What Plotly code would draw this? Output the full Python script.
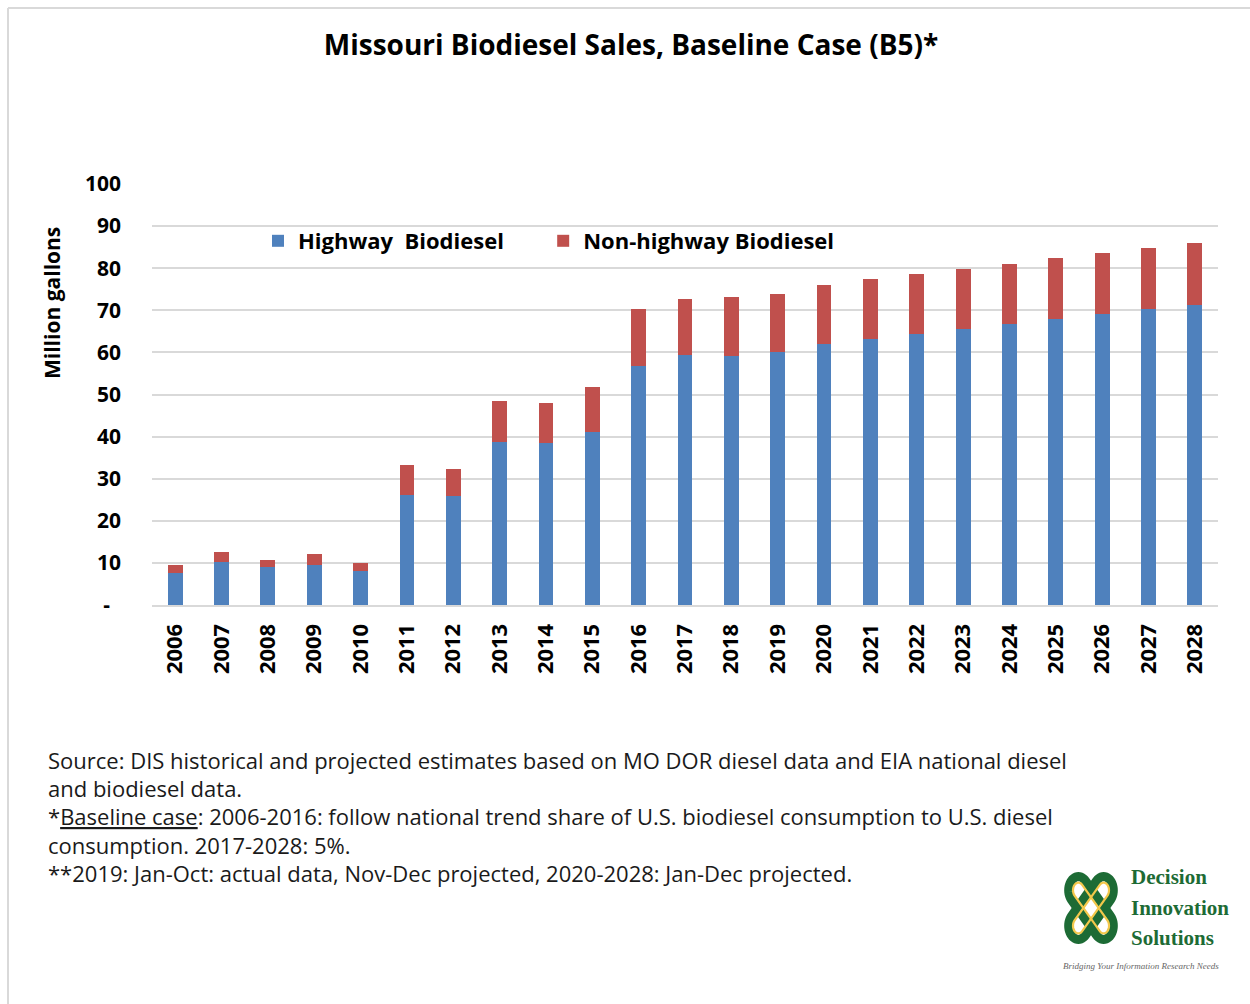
import math
import plotly.graph_objects as go

# ---- data (million gallons) ----
years = [str(y) for y in range(2006, 2029)]
highway = [7.7, 10.3, 9.0, 9.6, 8.0, 26.1, 25.9, 38.8, 38.4, 41.1, 56.7, 59.4,
           59.1, 60.2, 62.0, 63.1, 64.4, 65.5, 66.8, 67.9, 69.1, 70.3, 71.3]
non_highway = [1.9, 2.4, 1.8, 2.4, 1.9, 7.1, 6.4, 9.6, 9.7, 10.8, 13.6, 13.3,
               14.1, 13.7, 14.1, 14.4, 14.3, 14.4, 14.3, 14.6, 14.6, 14.6, 14.8]
y_ticks = [0, 10, 20, 30, 40, 50, 60, 70, 80, 90, 100]
y_tick_text = ["-\u00a0\u00a0"] + [str(v) for v in y_ticks[1:]]

title = "Missouri Biodiesel Sales, Baseline Case (B5)*"
notes = [
    "Source: DIS historical and projected estimates based on MO DOR diesel data and EIA national diesel",
    "and biodiesel data.",
    "*<span style='text-decoration:underline'>Baseline case</span>: 2006-2016: follow national trend share of U.S. biodiesel consumption to U.S. diesel",
    "consumption. 2017-2028: 5%.",
    "**2019: Jan-Oct: actual data, Nov-Dec projected, 2020-2028: Jan-Dec projected.",
]

# ---- page geometry ----
W, H = 1250, 1004
L, R, T, B = 152, 32, 184, 399
PW, PH = W - L - R, H - T - B
FONT = "Open Sans"


def px(x):
    return (x - L) / PW


def py(y):
    return (H - B - y) / PH


fig = go.Figure()
# trailing no-break spaces widen the first legend entry
fig.add_trace(go.Bar(x=years, y=highway, name="Highway  Biodiesel" + "\u00a0" * 6,
                     marker=dict(color="#4f81bd", line=dict(width=0))))
fig.add_trace(go.Bar(x=years, y=non_highway, name="Non-highway Biodiesel",
                     marker=dict(color="#c0504d", line=dict(width=0))))

annotations = [
    dict(text="<b>Million gallons</b>", x=px(52), y=py(303), xref="paper", yref="paper",
         textangle=-90, showarrow=False, xanchor="center", yanchor="middle",
         font=dict(family=FONT, size=21, color="black")),
]
note_y = [760, 788, 816, 845, 873]
for txt, yy in zip(notes, note_y):
    annotations.append(dict(text=txt, x=px(46), y=py(yy), xref="paper", yref="paper",
                            showarrow=False, xanchor="left", yanchor="middle",
                            font=dict(family=FONT, size=22, color="#1a1a1a")))

# logo wordmark
for word, yy in zip(["Decision", "Innovation", "Solutions"], [877, 908, 938]):
    annotations.append(dict(text="<b>" + word + "</b>", x=px(1129), y=py(yy),
                            xref="paper", yref="paper", showarrow=False,
                            xanchor="left", yanchor="middle",
                            font=dict(family="Liberation Serif", size=21, color="#1d6b35")))
annotations.append(dict(text="<i>Bridging Your Information Research Needs</i>",
                        x=px(1141), y=py(966), xref="paper", yref="paper",
                        showarrow=False, xanchor="center", yanchor="middle",
                        font=dict(family="Liberation Serif", size=9, color="#666666")))


def stadium(cx, cy, sx, sy, angle, half_len, rad, n=24):
    """Closed rounded-band outline, returned as an SVG path in paper units."""
    ux, uy = math.cos(angle), math.sin(angle)
    nx, ny = -uy, ux
    pts = []
    for end, start in ((1, -math.pi / 2), (-1, math.pi / 2)):
        for i in range(n + 1):
            t = start + math.pi * i / n
            x = end * half_len * ux + rad * (math.cos(t) * ux + math.sin(t) * nx)
            y = end * half_len * uy + rad * (math.cos(t) * uy + math.sin(t) * ny)
            pts.append((px(cx + sx * x), py(cy + sy * y)))
    return "M" + " L".join(f"{a:.5f},{b:.5f}" for a, b in pts) + " Z"


shapes = []
# logo knot: two interlaced loops on the diagonals
for ang in (math.pi / 4, -math.pi / 4):
    shapes.append(dict(type="path", xref="paper", yref="paper",
                       path=stadium(1091, 908, 27, 38, ang, 0.66, 0.36),
                       line=dict(color="#1d6b35", width=9)))
for ang in (math.pi / 4, -math.pi / 4):
    shapes.append(dict(type="path", xref="paper", yref="paper",
                       path=stadium(1091, 908, 27, 38, ang, 0.66, 0.2),
                       line=dict(color="#f3c84b", width=2.2)))

# chart frame edges
shapes.append(dict(type="line", xref="paper", yref="paper", x0=px(8), x1=px(1250),
                   y0=py(8), y1=py(8), line=dict(color="#d9d9d9", width=2)))
shapes.append(dict(type="line", xref="paper", yref="paper", x0=px(8), x1=px(8),
                   y0=py(8), y1=py(1004), line=dict(color="#d9d9d9", width=2)))

fig.update_layout(
    width=W, height=H,
    margin=dict(l=L, r=R, t=T, b=B),
    paper_bgcolor="white", plot_bgcolor="white",
    barmode="stack", bargap=0.68,
    title=dict(text="<b>" + title + "</b>", x=631 / W, xanchor="center",
               y=1 - 45 / H, yanchor="middle",
               font=dict(family=FONT, size=28, color="black")),
    legend=dict(orientation="h", x=px(258), xanchor="left", y=py(241), yanchor="middle",
                font=dict(family=FONT, size=22, color="black", weight="bold"),
                bgcolor="rgba(0,0,0,0)", traceorder="normal"),
    annotations=annotations,
    shapes=shapes,
    showlegend=True,
)
fig.update_xaxes(type="category", tickangle=-90, showgrid=False,
                 showline=True, linecolor="#d9d9d9", linewidth=2,
                 ticks="", ticklabelstandoff=8,
                 tickfont=dict(family=FONT, size=22, color="black", weight="bold"))
fig.update_yaxes(range=[0, 100], tickvals=y_ticks, ticktext=y_tick_text,
                 showgrid=True, gridcolor="#d9d9d9", gridwidth=2,
                 zeroline=False, showline=False, ticks="", ticklabelstandoff=30,
                 tickfont=dict(family=FONT, size=21, color="black", weight="bold"))

fig.write_html("out.html")
